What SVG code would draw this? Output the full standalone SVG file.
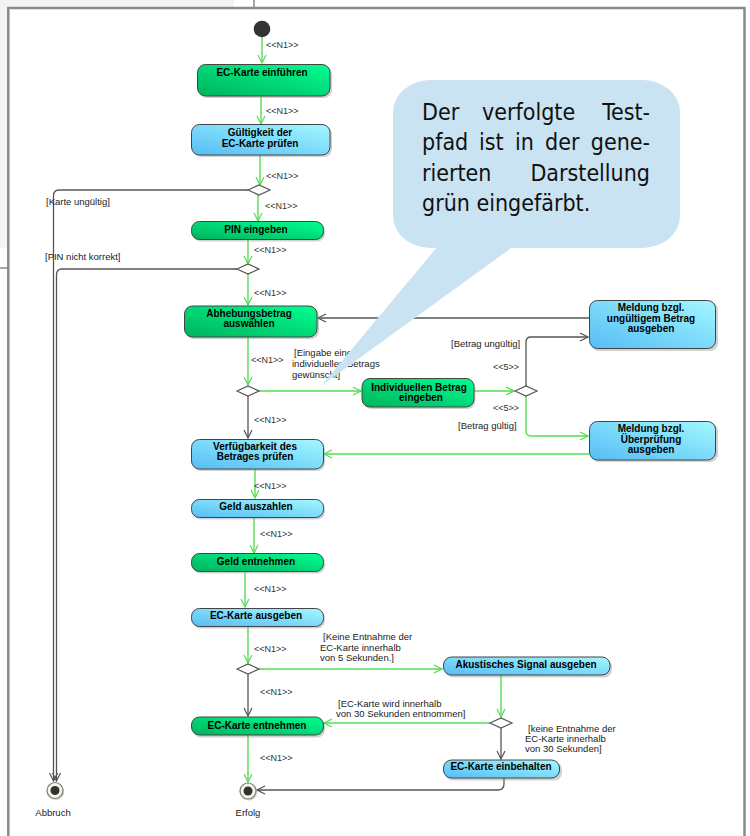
<svg xmlns="http://www.w3.org/2000/svg" width="750" height="836" viewBox="0 0 750 836">
<style>
.nt{font-family:"Liberation Sans",Arial,sans-serif;font-size:10px;font-weight:bold;fill:#000;text-anchor:middle}
.st{font-family:"Liberation Sans",Arial,sans-serif;font-size:9px;fill:#333}
.gd{font-family:"Liberation Sans",Arial,sans-serif;font-size:9.5px;fill:#222}
.fn{font-family:"Liberation Sans",Arial,sans-serif;font-size:9.5px;fill:#222;text-anchor:middle}
.ng{fill:url(#gG);stroke:#444;stroke-width:1}
.nb{fill:url(#gB);stroke:#444;stroke-width:1}
.sh{fill:#9a9a9a;opacity:0.45}
.dm{fill:#fff;stroke:#555;stroke-width:1.2}
.cg{fill:none;stroke:#55dd55;stroke-width:1.4;marker-end:url(#ag)}
.cgn{fill:none;stroke:#55dd55;stroke-width:1.4}
.ck{fill:none;stroke:#555;stroke-width:1.3;marker-end:url(#ak)}
.co{font-family:"DejaVu Sans Condensed","DejaVu Sans",sans-serif;font-stretch:condensed;font-size:23px;fill:#111}
</style>
<defs>
<linearGradient id="gG" x1="0" y1="1" x2="1" y2="0">
<stop offset="0" stop-color="#00b25c"/>
<stop offset="1" stop-color="#00ff92"/>
</linearGradient>
<linearGradient id="gB" x1="0" y1="1" x2="1" y2="0">
<stop offset="0" stop-color="#55bdf5"/>
<stop offset="1" stop-color="#a3f8ff"/>
</linearGradient>
<marker id="ag" markerWidth="10" markerHeight="10" refX="9" refY="5" orient="auto" markerUnits="userSpaceOnUse">
<path d="M1,1 L9,5 L1,9" fill="none" stroke="#55dd55" stroke-width="1.2"/>
</marker>
<marker id="ak" markerWidth="10" markerHeight="10" refX="9" refY="5" orient="auto" markerUnits="userSpaceOnUse">
<path d="M1,1 L9,5 L1,9" fill="none" stroke="#555" stroke-width="1.2"/>
</marker>
</defs>

<rect x="0" y="0" width="750" height="836" fill="#fff"/>
<rect x="0" y="0" width="234" height="8" fill="#f3f3f3"/>
<rect x="0" y="0" width="8" height="248" fill="#f3f3f3"/>
<line x1="254" y1="0" x2="254" y2="8" stroke="#888" stroke-width="1.5"/>
<line x1="0" y1="268" x2="8" y2="268" stroke="#888" stroke-width="1.5"/>
<path d="M8.3,836 V8 H744.5 V836" fill="none" stroke="#8a8a8a" stroke-width="2.5"/>

<g id="connectors">
<path class="cg" d="M262,37 V63"/>
<path class="cg" d="M261,96 V124"/>
<path class="cg" d="M260,155 V185"/>
<path class="cg" d="M258,195 V221"/>
<path class="ck" d="M248,190 H59 Q53.5,190 53.5,196 V781"/>
<path class="cg" d="M248,239 V264"/>
<path class="ck" d="M237,269 H62 Q56.5,269 56.5,275 V781"/>
<path class="cg" d="M248,274 V305"/>
<path class="cg" d="M248,337 V385"/>
<path class="cg" d="M259,391 H361"/>
<path class="ck" d="M248,396 V438"/>
<path class="cg" d="M474,391 H514"/>
<path class="ck" d="M526,386 V342 Q526,337 531,337 H588"/>
<path class="cg" d="M526,396 V431 Q526,436 531,436 H588"/>
<path class="ck" d="M589,318 H318"/>
<path class="cg" d="M589,454 H324"/>
<path class="cg" d="M255,469 V498"/>
<path class="cg" d="M254,517 V553"/>
<path class="cg" d="M245,572 V607"/>
<path class="cg" d="M248,627 V663"/>
<path class="cg" d="M259,669 H442"/>
<path class="ck" d="M248,674 V716"/>
<path class="cg" d="M501,675 V717"/>
<path class="cg" d="M490,723 H324"/>
<path class="ck" d="M501,728 V759"/>
<path class="ck" d="M504,778 V784 Q504,790 498,790 H257"/>
<path class="cg" d="M248,735 V782"/>

<text class="st" x="266" y="48">&lt;&lt;N1&gt;&gt;</text>
<text class="st" x="266" y="114">&lt;&lt;N1&gt;&gt;</text>
<text class="st" x="266" y="179">&lt;&lt;N1&gt;&gt;</text>
<text class="gd" x="46" y="205">[Karte ungültig]</text>
<text class="st" x="265" y="209">&lt;&lt;N1&gt;&gt;</text>
<text class="st" x="254" y="253">&lt;&lt;N1&gt;&gt;</text>
<text class="gd" x="45" y="260">[PIN nicht korrekt]</text>
<text class="st" x="254" y="296">&lt;&lt;N1&gt;&gt;</text>
<text class="st" x="251" y="363">&lt;&lt;N1&gt;&gt;</text>
<text class="gd" x="294" y="356">[Eingabe eines</text>
<text class="gd" x="292" y="366.5">individuellen Betrags</text>
<text class="gd" x="292" y="377.5">gewünscht]</text>
<text class="st" x="254" y="422.5">&lt;&lt;N1&gt;&gt;</text>
<text class="st" x="493" y="369.5">&lt;&lt;5&gt;&gt;</text>
<text class="st" x="493" y="410.5">&lt;&lt;5&gt;&gt;</text>
<text class="gd" x="451" y="347">[Betrag ungültig]</text>
<text class="gd" x="458" y="429">[Betrag gültig]</text>
<text class="st" x="254" y="489">&lt;&lt;N1&gt;&gt;</text>
<text class="st" x="260" y="537">&lt;&lt;N1&gt;&gt;</text>
<text class="st" x="254" y="592">&lt;&lt;N1&gt;&gt;</text>
<text class="st" x="254" y="652">&lt;&lt;N1&gt;&gt;</text>
<text class="gd" x="323" y="640">[Keine Entnahme der</text>
<text class="gd" x="320" y="651">EC-Karte innerhalb</text>
<text class="gd" x="320" y="661">von 5 Sekunden.]</text>
<text class="st" x="260" y="695">&lt;&lt;N1&gt;&gt;</text>
<text class="gd" x="338" y="706.5">[EC-Karte wird innerhalb</text>
<text class="gd" x="336" y="717">von 30 Sekunden entnommen]</text>
<text class="gd" x="528" y="731.5">[keine Entnahme der</text>
<text class="gd" x="525" y="741.5">EC-Karte innerhalb</text>
<text class="gd" x="525" y="751.5">von 30 Sekunden]</text>
<text class="st" x="260" y="761">&lt;&lt;N1&gt;&gt;</text>
</g>

<g id="start"><circle cx="262" cy="29" r="8.3" fill="#333"/></g>

<g id="n-ec-einfuehren">
<rect class="sh" x="199" y="66" width="133" height="32" rx="8"/>
<rect class="ng" x="197.5" y="64.5" width="132.5" height="31.5" rx="8"/>
<text class="nt" x="262" y="76">EC-Karte einführen</text>
</g>
<g id="n-gueltigkeit">
<rect class="sh" x="193" y="126" width="139" height="31" rx="8"/>
<rect class="nb" x="191.5" y="124.5" width="138.5" height="30.5" rx="8"/>
<text class="nt" x="260" y="135.5">Gültigkeit der</text>
<text class="nt" x="260" y="146.5">EC-Karte prüfen</text>
</g>
<g id="d1"><polygon class="dm" points="248,190 259,185 270,190 259,195"/></g>
<g id="n-pin">
<rect class="sh" x="193" y="223" width="132" height="18.5" rx="8"/>
<rect class="ng" x="191.5" y="221.5" width="132" height="18" rx="8"/>
<text class="nt" x="256" y="232.5">PIN eingeben</text>
</g>
<g id="d2"><polygon class="dm" points="237,269 248,264 259,269 248,274"/></g>
<g id="n-abhebung">
<rect class="sh" x="186" y="308" width="133" height="31" rx="8"/>
<rect class="ng" x="184.5" y="306" width="132.5" height="31" rx="8"/>
<text class="nt" x="249" y="316.5">Abhebungsbetrag</text>
<text class="nt" x="249" y="327">auswählen</text>
</g>
<g id="d3"><polygon class="dm" points="237,391 248,386 259,391 248,396"/></g>
<g id="n-individuell">
<rect class="sh" x="363.5" y="380" width="112" height="29" rx="8"/>
<rect class="ng" x="362" y="378.5" width="112" height="28.5" rx="8"/>
<text class="nt" x="419" y="390.5">Individuellen Betrag</text>
<text class="nt" x="421" y="400.5">eingeben</text>
</g>
<g id="d4"><polygon class="dm" points="515,391 526,386 537,391 526,396"/></g>
<g id="n-meldung-ungueltig">
<rect class="sh" x="591" y="302" width="127" height="49" rx="8"/>
<rect class="nb" x="589.5" y="300.5" width="126" height="48" rx="8"/>
<text class="nt" x="651" y="310.5">Meldung bzgl.</text>
<text class="nt" x="651" y="321.5">ungültigem Betrag</text>
<text class="nt" x="651" y="331.5">ausgeben</text>
</g>
<g id="n-meldung-pruefung">
<rect class="sh" x="591" y="423" width="127" height="39" rx="8"/>
<rect class="nb" x="589.5" y="421.5" width="126" height="38.5" rx="8"/>
<text class="nt" x="651" y="431.5">Meldung bzgl.</text>
<text class="nt" x="651" y="442.5">Überprüfung</text>
<text class="nt" x="651" y="452.5">ausgeben</text>
</g>
<g id="n-verfuegbarkeit">
<rect class="sh" x="193" y="441" width="132" height="30" rx="8"/>
<rect class="nb" x="191.5" y="439.5" width="132" height="29.5" rx="8"/>
<text class="nt" x="255" y="449.5">Verfügbarkeit des</text>
<text class="nt" x="255" y="460">Betrages prüfen</text>
</g>
<g id="n-geld-auszahlen">
<rect class="sh" x="193" y="501" width="132" height="18.5" rx="8"/>
<rect class="nb" x="191.5" y="499.5" width="132" height="18" rx="8"/>
<text class="nt" x="256" y="510">Geld auszahlen</text>
</g>
<g id="n-geld-entnehmen">
<rect class="sh" x="193" y="555" width="132" height="18.5" rx="8"/>
<rect class="ng" x="191.5" y="553.5" width="132" height="18" rx="8"/>
<text class="nt" x="256" y="564.5">Geld entnehmen</text>
</g>
<g id="n-ec-ausgeben">
<rect class="sh" x="193" y="610" width="132" height="18.5" rx="8"/>
<rect class="nb" x="191.5" y="608.5" width="132" height="18" rx="8"/>
<text class="nt" x="256" y="619">EC-Karte ausgeben</text>
</g>
<g id="d5"><polygon class="dm" points="237,669 248,664 259,669 248,674"/></g>
<g id="n-akustisch">
<rect class="sh" x="445" y="659" width="167" height="18.5" rx="8"/>
<rect class="nb" x="443.5" y="657" width="166.5" height="18" rx="8"/>
<text class="nt" x="526" y="668">Akustisches Signal ausgeben</text>
</g>
<g id="d6"><polygon class="dm" points="490,723 501,718 512,723 501,728"/></g>
<g id="n-ec-entnehmen">
<rect class="sh" x="193" y="719" width="132" height="18.5" rx="8"/>
<rect class="ng" x="191.5" y="717" width="132" height="18" rx="8"/>
<text class="nt" x="257" y="728.5">EC-Karte entnehmen</text>
</g>
<g id="n-ec-einbehalten">
<rect class="sh" x="445" y="762" width="117" height="18.5" rx="8"/>
<rect class="nb" x="443.5" y="760" width="116" height="18" rx="8"/>
<text class="nt" x="501" y="770">EC-Karte einbehalten</text>
</g>
<g id="f-abbruch">
<circle cx="56" cy="792" r="8.3" fill="#aaa" opacity="0.4"/>
<circle cx="55" cy="790.5" r="8" fill="#f6f6e4" stroke="#777" stroke-width="1.2"/>
<circle cx="55" cy="790.5" r="4.5" fill="#333"/>
<text class="fn" x="53" y="815.5">Abbruch</text>
</g>
<g id="f-erfolg">
<circle cx="249" cy="792.5" r="8.3" fill="#aaa" opacity="0.4"/>
<circle cx="248" cy="791" r="8" fill="#f6f6e4" stroke="#777" stroke-width="1.2"/>
<circle cx="248" cy="791" r="4.5" fill="#333"/>
<text class="fn" x="248" y="816">Erfolg</text>
</g>

<g id="callout">
<rect x="393" y="80" width="287" height="168" rx="38" ry="32" fill="#c9e3f2"/>
<polygon points="438,246 514,246 321,386" fill="#c9e3f2"/>
<text class="co" x="422" y="120">Der</text>
<text class="co" x="482" y="120">verfolgte</text>
<text class="co" x="650" y="120" text-anchor="end">Test-</text>
<text class="co" x="422" y="150">pfad</text>
<text class="co" x="479" y="150">ist</text>
<text class="co" x="515" y="150">in</text>
<text class="co" x="545" y="150">der</text>
<text class="co" x="650" y="150" text-anchor="end">gene-</text>
<text class="co" x="422" y="181">rierten</text>
<text class="co" x="650" y="181" text-anchor="end">Darstellung</text>
<text class="co" x="422" y="211">grün eingefärbt.</text>
</g>
</svg>
